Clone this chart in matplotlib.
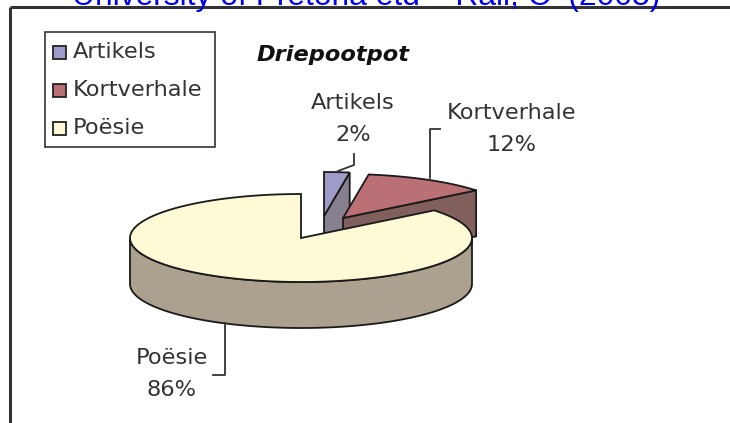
import numpy as np
import matplotlib
matplotlib.use("Agg")
import matplotlib.pyplot as plt
from matplotlib.patches import Polygon, Rectangle

categories = ["Artikels", "Kortverhale", "Poësie"]
values = [2.4, 11.8, 85.8]
title = "Driepootpot"
header = "University of Pretoria etd – Rall, C  (2005)"

top_colors = ["#9F9BC9", "#BB7075", "#FFFAD6"]
side_colors = ["#86808F", "#805F5C", "#ACA08E"]
apex_px = [(324, 216), (343, 218), (301, 238)]
A, B, DEPTH = 171, 44, 46

fig = plt.figure(figsize=(7.30, 4.23), dpi=100)
ax = fig.add_axes([0, 0, 1, 1])
ax.set_xlim(0, 730); ax.set_ylim(423, 0); ax.axis("off")
EC = "#1a1a1a"
FONT = "DejaVu Sans"
TXT = "#333333"
FS = 16.2

# page header, clipped by the figure top
ax.text(366, 5, header, color="#0000EE", fontsize=22.9, family="Liberation Sans",
        ha="center", va="baseline")
ax.plot([10, 10], [7, 423], color="#333333", lw=2.2, solid_capstyle="butt")
ax.plot([10, 730], [7, 7], color="#333333", lw=2.2, solid_capstyle="butt")

# wedge angles from the values (clockwise from 12 o'clock)
edges = np.radians(np.concatenate([[0], np.cumsum(values)]) * 3.6)

def rim(cx, cy, t0, t1, n=120):
    t = np.linspace(t0, t1, n)
    return np.c_[cx + A * np.sin(t), cy - B * np.cos(t)]

for i, (cat, ap) in enumerate(zip(categories, apex_px)):
    cx, cy = ap
    t0, t1 = edges[i], edges[i + 1]
    arc = rim(cx, cy, t0, t1)
    z = 3 + i
    # cut face at the clockwise end of exploded slices
    if i < 2:
        e = arc[-1]
        ax.add_patch(Polygon([(cx, cy), e, (e[0], e[1] + DEPTH), (cx, cy + DEPTH)],
                             fc=side_colors[i], ec=EC, lw=1.3, zorder=z))
    # outer wall: only the lower half of the rim faces the viewer
    if t1 > np.pi / 2:
        low = rim(cx, cy, max(t0, np.pi / 2), min(t1, 3 * np.pi / 2))
        wall = np.vstack([low, (low + [0, DEPTH])[::-1]])
        ax.add_patch(Polygon(wall, fc=side_colors[i], ec=EC, lw=1.3, zorder=z))
    ax.add_patch(Polygon(np.vstack([[cx, cy], arc]), fc=top_colors[i], ec=EC, lw=1.3, zorder=z))

# title
ax.text(333, 55, title, fontsize=16.2, style="italic", weight="bold", family=FONT,
        color="#111111", ha="center", va="center")

# legend
ax.add_patch(Rectangle((45, 32), 170, 115, fc="white", ec="#333333", lw=1.2, zorder=8))
for i, (cat, y) in enumerate(zip(categories, [52, 90, 128])):
    ax.add_patch(Rectangle((53, y - 6), 13, 13, fc=top_colors[i], ec="#222222", lw=1.3, zorder=9))
    ax.text(73, y, cat, fontsize=FS, family=FONT, color=TXT, va="center", zorder=9)

# data labels
pct = [f"{round(v)}%" for v in values]
label_xy = [(353, 103), (512, 113), (172, 358)]
for cat, p, (x, y) in zip(categories, pct, label_xy):
    ax.text(x, y, cat, fontsize=FS, family=FONT, color=TXT, ha="center", va="center", zorder=9)
    ax.text(x, y + 32, p, fontsize=FS, family=FONT, color=TXT, ha="center", va="center", zorder=9)

# leader lines
for xs, ys in [([338, 354, 354], [171, 165, 154]),
               ([430, 430, 440], [178, 129, 129]),
               ([225, 225, 213], [323, 375, 375])]:
    ax.plot(xs, ys, color="#333333", lw=1.3, zorder=9)

fig.savefig("out.png", dpi=100)
